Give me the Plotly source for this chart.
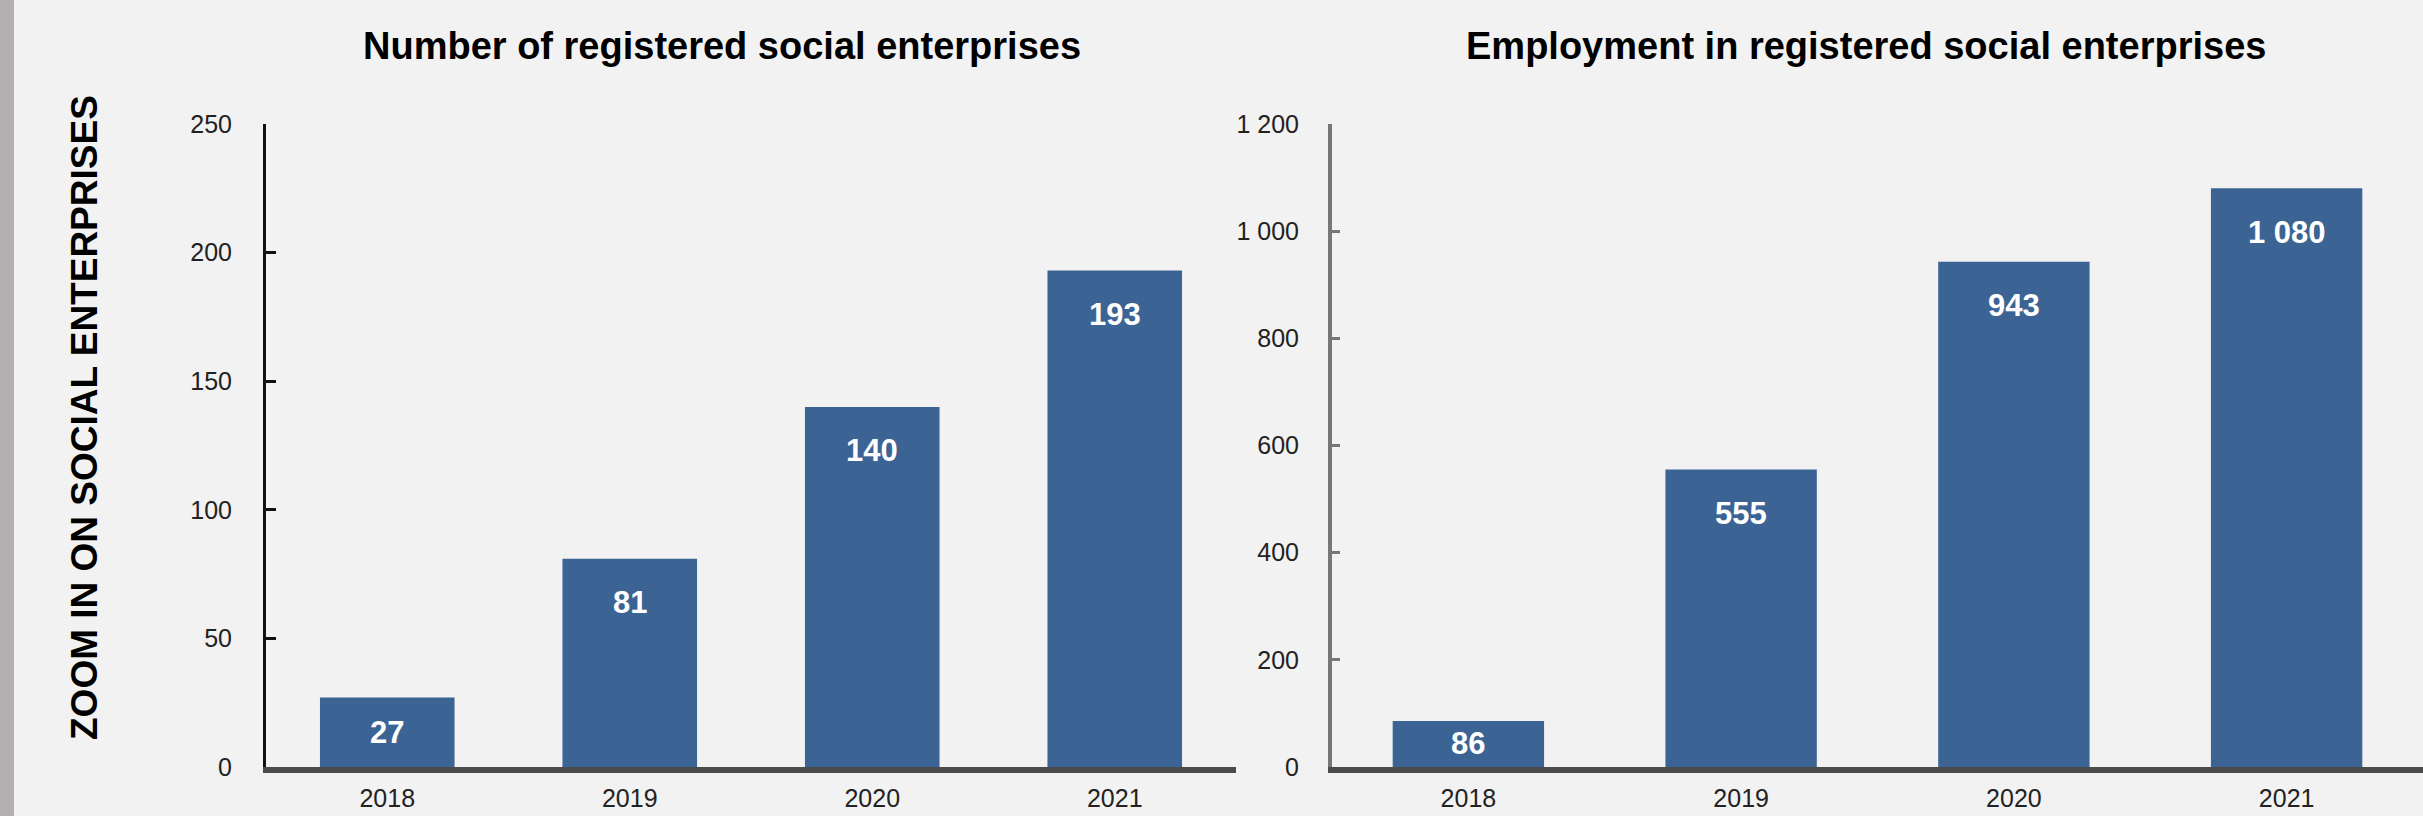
import plotly.graph_objects as go

W, H = 2423, 816

years = ["2018", "2019", "2020", "2021"]
n_enterprises = [27, 81, 140, 193]
employment = [86, 555, 943, 1080]

left_title = "Number of registered social enterprises"
right_title = "Employment in registered social enterprises"
side_title = "ZOOM IN ON SOCIAL ENTERPRISES"

left_ticks = [0, 50, 100, 150, 200, 250]
left_ticktext = ["0", "50", "100", "150", "200", "250"]
right_ticks = [0, 200, 400, 600, 800, 1000, 1200]
right_ticktext = ["0", "200", "400", "600", "800", "1 000", "1 200"]

FONT = "Liberation Sans, Arial, sans-serif"
BAR = "#3B6494"
BG = "#F2F2F2"

def px_x(p):
    return p / W

def px_y(p):
    return 1 - p / H

plot_top, plot_bot = 124, 767
left_dom = [px_x(266), px_x(1236)]
right_dom = [px_x(1332), 1.0]
ydom = [px_y(plot_bot), px_y(plot_top)]

def fmt(v):
    return f"{v:,}".replace(",", " ")

fig = go.Figure()
fig.add_trace(go.Bar(x=years, y=n_enterprises, marker=dict(color=BAR, line=dict(width=0)),
                     xaxis="x", yaxis="y", hoverinfo="skip"))
fig.add_trace(go.Bar(x=years, y=employment, marker=dict(color=BAR, line=dict(width=0)),
                     xaxis="x2", yaxis="y2", hoverinfo="skip"))

tickfont = dict(family=FONT, size=25, color="#222222")

common_x = dict(type="category", range=[-0.5, 3.5], showgrid=False, zeroline=False,
                showline=True, linecolor="#4a4a4a", linewidth=6, ticks="",
                tickfont=tickfont, ticklabelstandoff=4, fixedrange=True,
                automargin=False)

layout = dict(
    template="none",
    font=dict(family=FONT),
    width=W, height=H, margin=dict(l=0, r=0, t=0, b=0, pad=0), autosize=False,
    paper_bgcolor=BG, plot_bgcolor=BG, showlegend=False,
    bargap=0.445,
    xaxis=dict(domain=left_dom, anchor="y", **common_x),
    yaxis=dict(domain=ydom, anchor="x", range=[0, 250], tickvals=left_ticks,
               ticktext=left_ticktext, showgrid=False, zeroline=False, showline=True,
               linecolor="#111111", linewidth=3, ticks="inside", ticklen=10,
               tickwidth=3, tickcolor="#111111", tickfont=tickfont,
               ticklabelstandoff=26, automargin=False, fixedrange=True),
    xaxis2=dict(domain=right_dom, anchor="y2", **common_x),
    yaxis2=dict(domain=ydom, anchor="x2", range=[0, 1200], tickvals=right_ticks,
                ticktext=right_ticktext, showgrid=False, zeroline=False, showline=True,
                linecolor="#777777", linewidth=4, ticks="inside", ticklen=8,
                tickwidth=3, tickcolor="#777777", tickfont=tickfont,
                ticklabelstandoff=24, automargin=False, fixedrange=True),
)
fig.update_layout(**layout)

ann = []
plot_h = plot_bot - plot_top
for xs, ys, vals, rng in (("x", "y", n_enterprises, 250), ("x2", "y2", employment, 1200)):
    for i, v in enumerate(vals):
        hpx = v / rng * plot_h
        off = min(44, hpx / 2)
        ann.append(dict(x=i, y=v, xref=xs, yref=ys, text=fmt(v), showarrow=False,
                        xanchor="center", yanchor="middle", yshift=-off,
                        font=dict(family=FONT, size=31, color="#FFFFFF", weight="bold")))

ann.append(dict(x=px_x(722), y=px_y(46), xref="paper", yref="paper", text=left_title,
                showarrow=False, xanchor="center", yanchor="middle",
                font=dict(family=FONT, size=38, color="black", weight="bold")))
ann.append(dict(x=px_x(1866), y=px_y(46), xref="paper", yref="paper", text=right_title,
                showarrow=False, xanchor="center", yanchor="middle",
                font=dict(family=FONT, size=38, color="black", weight="bold")))
ann.append(dict(x=px_x(85), y=px_y(418), xref="paper", yref="paper", text=side_title,
                showarrow=False, xanchor="center", yanchor="middle", textangle=-90,
                font=dict(family=FONT, size=37, color="black", weight="bold")))
fig.update_layout(annotations=ann)

fig.add_shape(type="rect", xref="paper", yref="paper", x0=0, x1=px_x(14), y0=0, y1=1,
              fillcolor="#B3AFB1", line=dict(width=0), layer="below")

fig.write_html("out.html", config={"displayModeBar": False},
               post_script="document.body.style.margin='0';document.body.style.padding='0';document.body.style.overflow='hidden';")
